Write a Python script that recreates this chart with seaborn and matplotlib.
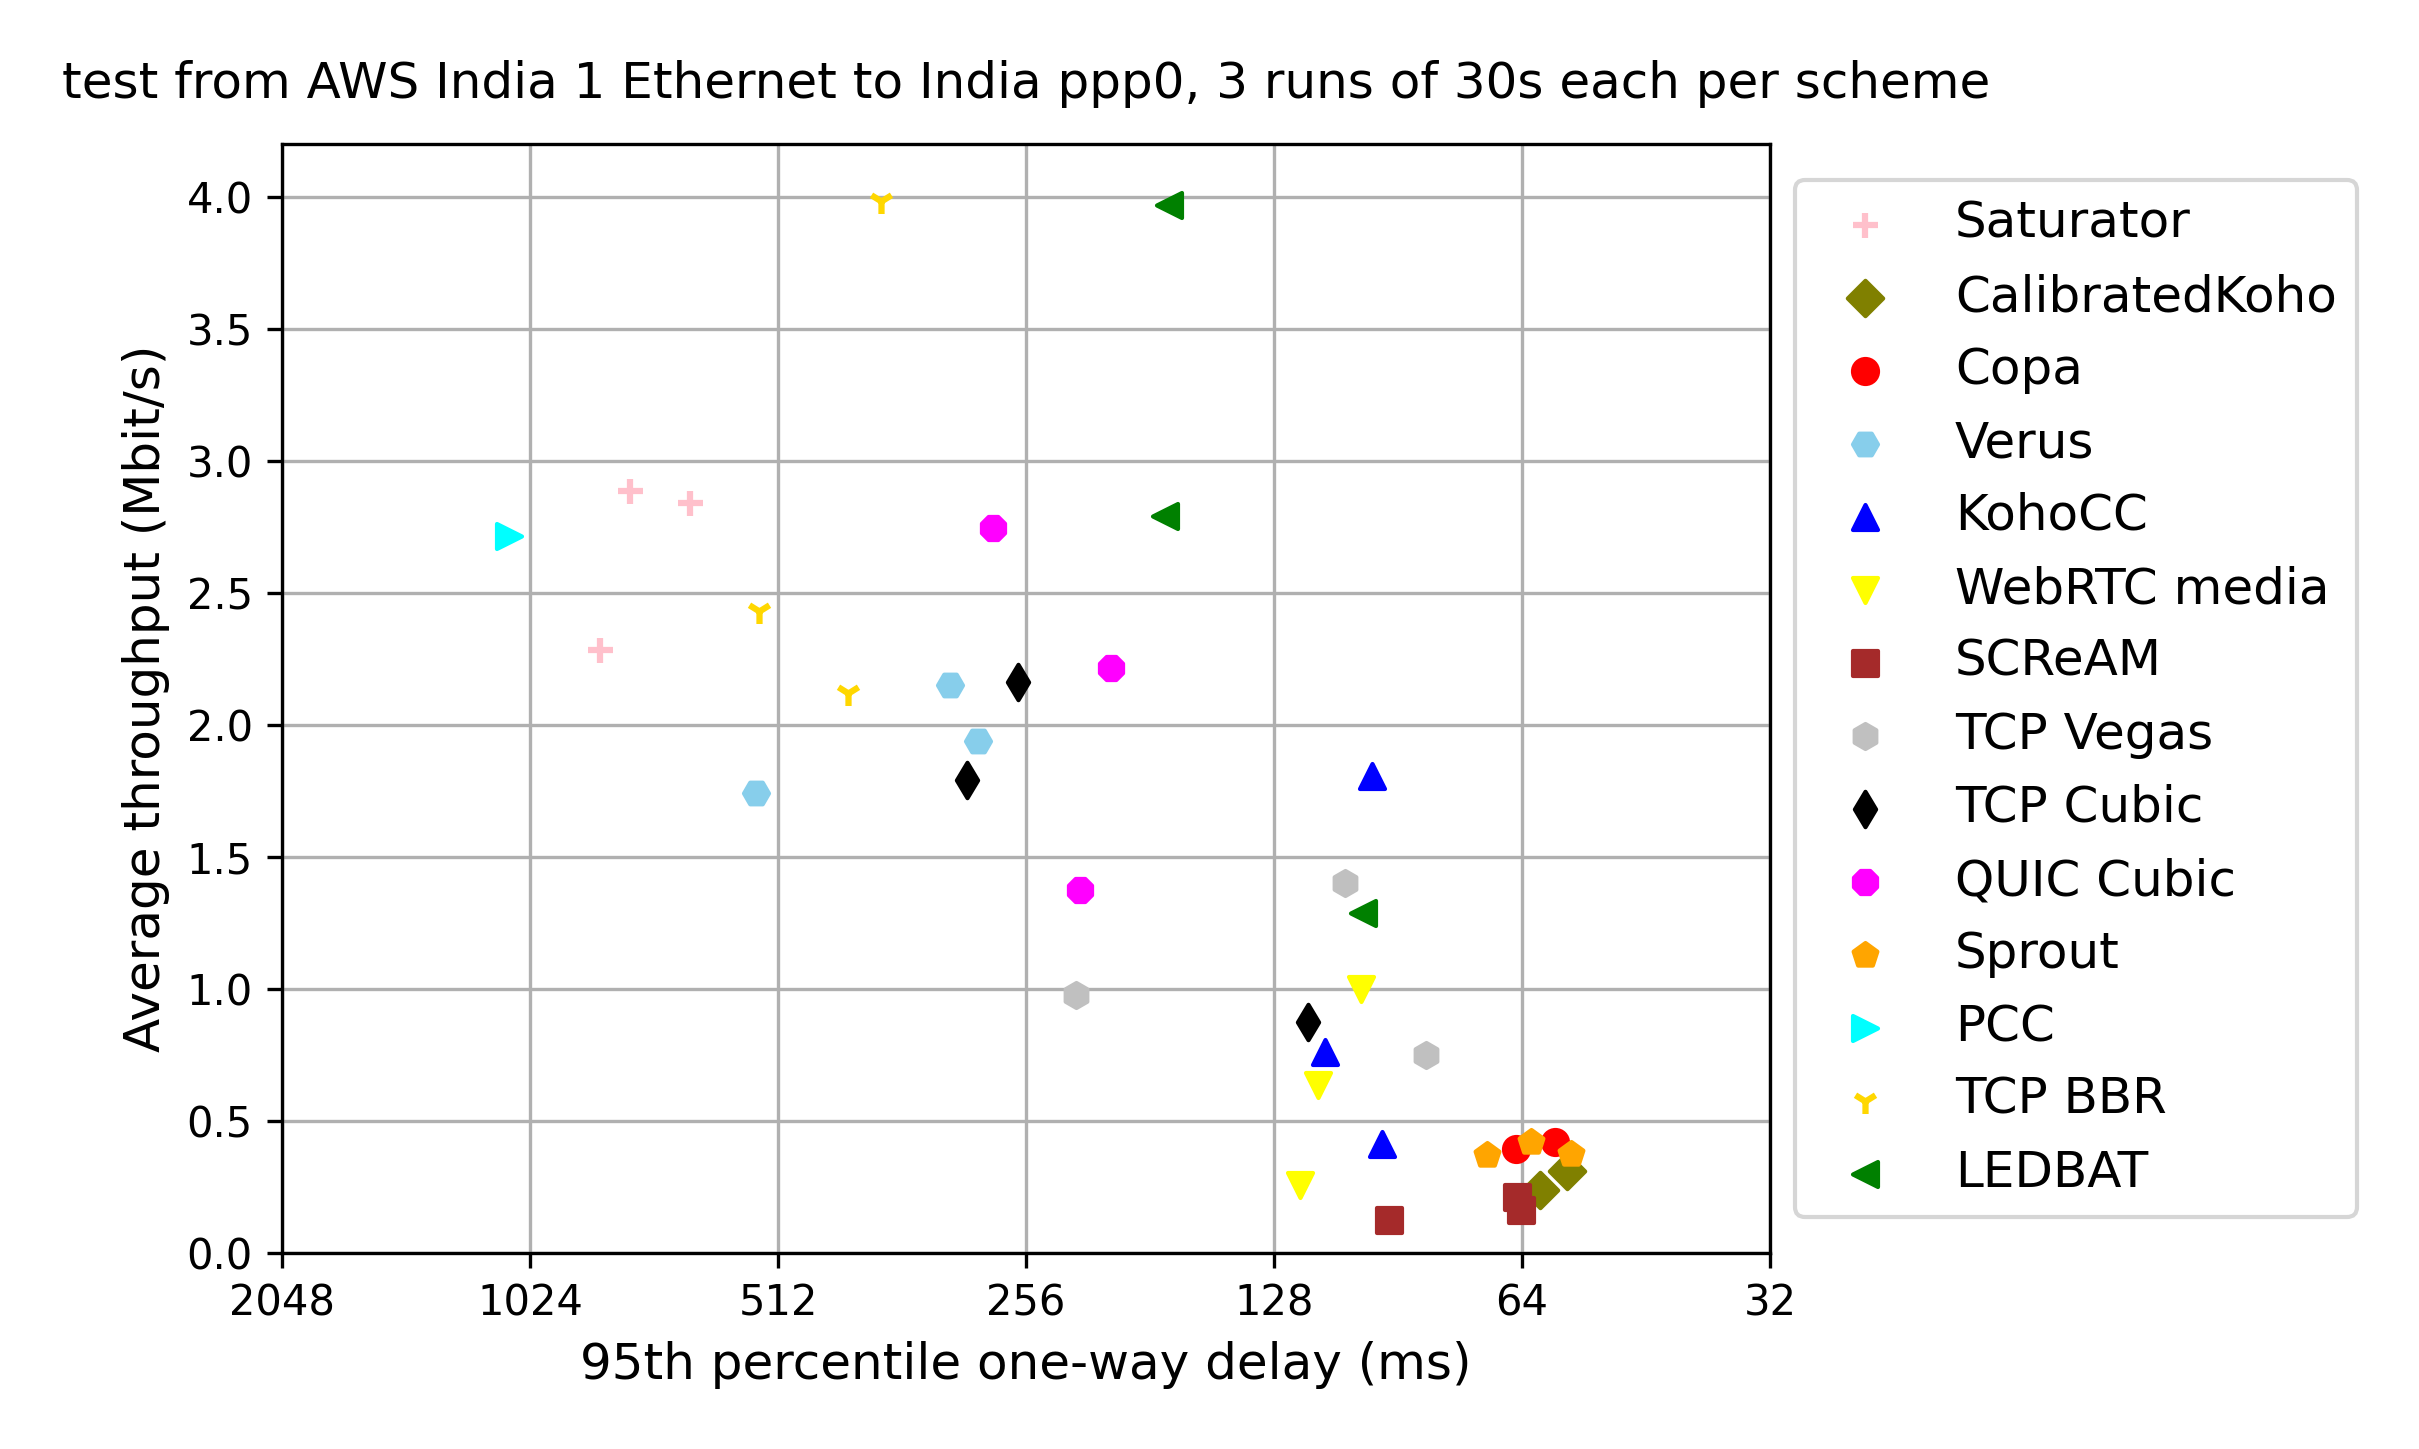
import matplotlib

matplotlib.use("Agg")
import matplotlib.pyplot as plt
import matplotlib.ticker as mticker
import seaborn as sns

# scheme -> (95th percentile one-way delay in ms, average throughput in Mbit/s)
schemes = ["Saturator", "CalibratedKoho", "Copa", "Verus", "KohoCC", "WebRTC media",
           "SCReAM", "TCP Vegas", "TCP Cubic", "QUIC Cubic", "Sprout", "PCC",
           "TCP BBR", "LEDBAT"]

saturator_delay = [774, 655, 842]
saturator_tput = [2.886, 2.839, 2.285]
calibratedkoho_delay = [56.4, 60.8]
calibratedkoho_tput = [0.312, 0.240]
copa_delay = [65.1, 58.4]
copa_tput = [0.395, 0.421]
verus_delay = [317, 293, 545]
verus_tput = [2.153, 1.939, 1.744]
kohocc_delay = [97.2, 110.9, 94.6]
kohocc_tput = [1.807, 0.761, 0.413]
webrtc_delay = [100.5, 113.1, 118.9]
webrtc_tput = [1.000, 0.638, 0.259]
scream_delay = [92.7, 64.9, 64.1]
scream_tput = [0.125, 0.212, 0.162]
vegas_delay = [105.1, 222.4, 83.8]
vegas_tput = [1.403, 0.976, 0.750]
cubic_delay = [262, 302, 116.4]
cubic_tput = [2.164, 1.793, 0.875]
quic_delay = [281, 201.7, 220.4]
quic_tput = [2.747, 2.216, 1.373]
sprout_delay = [70.6, 62.4, 55.8]
sprout_tput = [0.370, 0.421, 0.374]
pcc_delay = [1085]
pcc_tput = [2.714]
bbr_delay = [384, 540, 421]
bbr_tput = [3.985, 2.43, 2.12]
ledbat_delay = [171.5, 173.4, 99.7]
ledbat_tput = [3.97, 2.792, 1.286]

delays = [saturator_delay, calibratedkoho_delay, copa_delay, verus_delay, kohocc_delay,
          webrtc_delay, scream_delay, vegas_delay, cubic_delay, quic_delay,
          sprout_delay, pcc_delay, bbr_delay, ledbat_delay]
tputs = [saturator_tput, calibratedkoho_tput, copa_tput, verus_tput, kohocc_tput,
         webrtc_tput, scream_tput, vegas_tput, cubic_tput, quic_tput,
         sprout_tput, pcc_tput, bbr_tput, ledbat_tput]

colors = ["pink", "olive", "red", "skyblue", "blue", "yellow", "brown", "silver",
          "black", "magenta", "orange", "cyan", "gold", "green"]
markers = ["+", "D", "o", "H", "^", "v", "s", "h", "d", "8", "p", ">", "1", "<"]

x_ticks = [2048, 1024, 512, 256, 128, 64, 32]
y_ticks = [0.0, 0.5, 1.0, 1.5, 2.0, 2.5, 3.0, 3.5, 4.0]

W, H = 2419, 1449
fig = plt.figure(figsize=(W / 300, H / 300), dpi=300)
ax = fig.add_axes([282 / W, (H - 1253) / H, (1770 - 282) / W, (1253 - 144) / H])

for name, d, t, c, m in zip(schemes, delays, tputs, colors, markers):
    if m in ("+", "1"):
        sns.scatterplot(x=d, y=t, ax=ax, color=c, marker=m, s=36, linewidth=1.5, label=name)
    else:
        sns.scatterplot(x=d, y=t, ax=ax, color=c, marker=m, s=36, edgecolor=c,
                        linewidth=1.0, label=name)

ax.set_xscale("log", base=2)
ax.set_xlim(2048, 32)
ax.set_xticks(x_ticks)
ax.xaxis.set_major_formatter(mticker.ScalarFormatter())
ax.xaxis.set_minor_locator(mticker.NullLocator())
ax.set_ylim(0, 4.2)
ax.set_yticks(y_ticks)
ax.grid(True)
ax.set_axisbelow(True)

ax.set_xlabel("95th percentile one-way delay (ms)", fontsize=12)
ax.set_ylabel("Average throughput (Mbit/s)", fontsize=12)
ax.set_title("test from AWS India 1 Ethernet to India ppp0, 3 runs of 30s each per scheme",
             fontsize=12, pad=11)

ax.legend(scatterpoints=1, loc="center left", bbox_to_anchor=(1, 0.5), fontsize=12,
          labelspacing=0.5)

fig.savefig("out.png", dpi=300)
